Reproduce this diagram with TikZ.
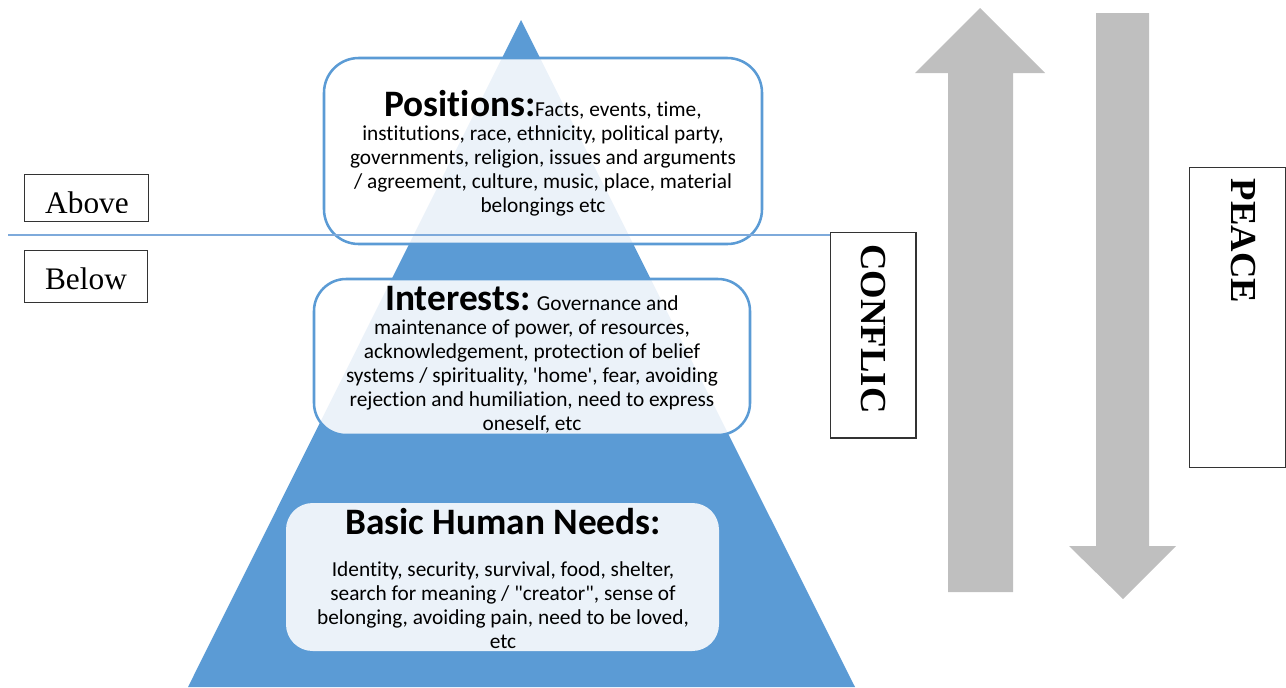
\documentclass[tikz,border=0pt]{standalone}
\usepackage{fontspec}
\setmainfont{Liberation Serif}
\newfontfamily\calib[Ligatures=NoCommon]{Carlito}
\definecolor{triblue}{HTML}{5B9BD5}
\definecolor{rulblue}{HTML}{7EAADB}
\definecolor{arrgray}{HTML}{BFBFBF}
\newcommand{\bodyf}{\calib\fontsize{16}{18}\selectfont}
\newcommand{\titlef}{\calib\bfseries\fontsize{28}{30}\selectfont}
\tikzset{
  levelbox/.style={draw=triblue, line width=1.9pt, fill=white, fill opacity=0.88, rounded corners=26pt},
  needbox/.style={draw=none, fill=white, fill opacity=0.88, rounded corners=20pt},
  bodytext/.style={font=\bodyf, align=center, text=black, inner sep=0pt},
  tag/.style={draw=black!80, line width=0.9pt, fill=white},
  tagtext/.style={font=\fontsize{23.5}{26}\selectfont, inner sep=0pt},
  sidetext/.style={font=\bfseries\fontsize{27.5}{30}\selectfont, rotate=-90, inner sep=0pt},
  bigarrow/.style={fill=arrgray, draw=none}
}
\begin{document}
\begin{tikzpicture}[x=0.75pt,y=-0.75pt]
\useasboundingbox (0,0) rectangle (1286,687);

% pyramid
\coordinate (apex) at (521,20);
\coordinate (baseL) at (188,687);
\coordinate (baseR) at (855,687);
\fill[triblue] (apex) -- (baseR) -- (baseL) -- cycle;

% level boxes
\path[levelbox] (324,58) rectangle (762,244);
\node[bodytext] (pos) at (543,153) {{\titlef Positions:}Facts, events, time,\\
institutions, race, ethnicity, political party,\\
governments, religion, issues and arguments\\
/ agreement, culture, music, place, material\\
belongings etc};

\path[levelbox, rounded corners=24pt] (314,279) rectangle (750,435);
\node[bodytext] (int) at (532,360) {{\titlef Interests:} Governance and\\
maintenance of power, of resources,\\
acknowledgement, protection of belief\\
systems / spirituality, 'home', fear, avoiding\\
rejection and humiliation, need to express\\
oneself, etc};

\path[needbox] (286,503) rectangle (719,651);
\node[bodytext, font=\titlef] (bhn) at (503,522) {Basic Human Needs:};
\node[bodytext] (bhnlist) at (503,605) {Identity, security, survival, food, shelter,\\
search for meaning / "creator", sense of\\
belonging, avoiding pain, need to be loved,\\
etc};

% above / below tags
\node[tag, minimum width=93pt, minimum height=35pt, anchor=north west] (above) at (24,174) {};
\begin{scope}
  \clip (24,174) rectangle (148,212);
  \node[tagtext, anchor=base] at (87,213) {Above};
\end{scope}
\node[tag, minimum width=92pt, minimum height=39pt, anchor=north west] (below) at (24,250) {};
\node[tagtext, anchor=base] at (86,289) {Below};

% conflict / peace tags
\node[tag, minimum width=64pt, minimum height=154pt, anchor=north west] (conf) at (830,232) {};
\node[sidetext] at (873,329) {CONFLIC};
\node[tag, minimum width=72pt, minimum height=225pt, anchor=north west] (peace) at (1189,167) {};
\node[sidetext] at (1243,241) {PEACE};

% separator line
\draw[rulblue, line width=1.1pt] (8,235) -- (conf.west |- 0,235);

% large arrows
\fill[bigarrow] (948,592) -- (948,73) -- (915,73) -- (980,8) -- (1045,73) -- (1013,73) -- (1013,592) -- cycle;
\fill[bigarrow] (1096,13) -- (1096,546) -- (1069,546) -- (1123,599) -- (1176,546) -- (1149,546) -- (1149,13) -- cycle;
\end{tikzpicture}
\end{document}
